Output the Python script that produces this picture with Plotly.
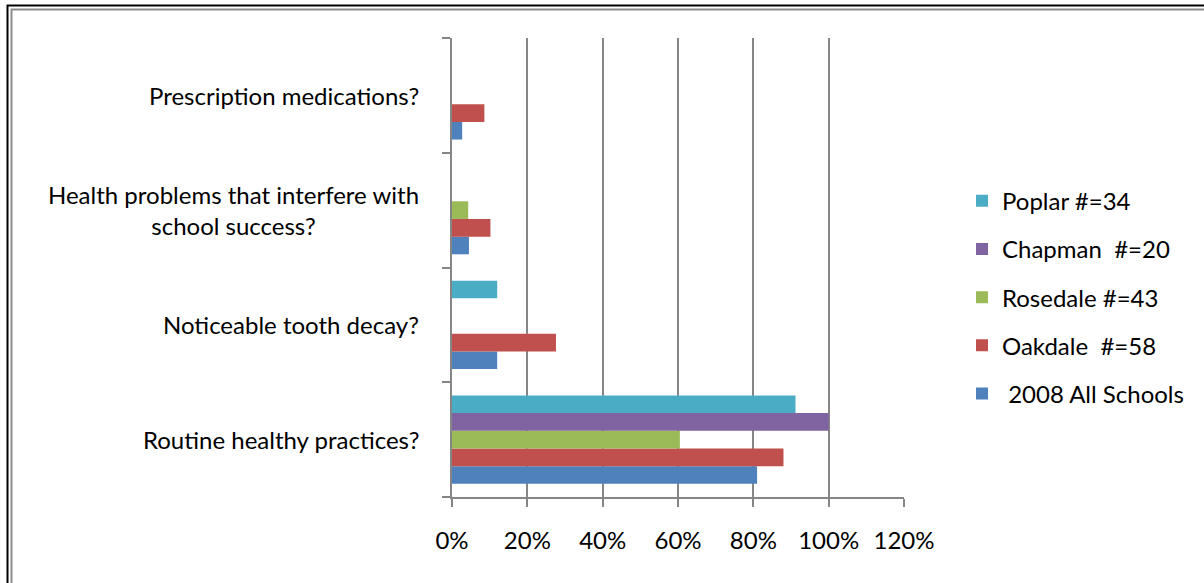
import plotly.graph_objects as go

categories = ["Routine healthy practices?", "Noticeable tooth decay?",
              "Health problems that interfere with<br>school success?", "Prescription medications?"]
series_names = ["\u00a02008 All Schools", "Oakdale  #=58", "Rosedale #=43", "Chapman  #=20", "Poplar #=34"]
all_schools = [0.81, 0.12, 0.045, 0.027]
oakdale = [0.88, 0.276, 0.102, 0.086]
rosedale = [0.605, None, 0.043, None]
chapman = [1.00, None, None, None]
poplar = [0.912, 0.12, None, None]
colors = ["#4F81BD", "#C0504D", "#9BBB59", "#8064A2", "#4BACC6"]
x_ticks = [0, 0.2, 0.4, 0.6, 0.8, 1.0, 1.2]

FONT = "Lato"
W, H = 1204, 583
L, R = 452, 904
T, B = 38, 496.7

def px(x):
    return (x - L) / (R - L)

def py(y):
    return (B - y) / (B - T)

fig = go.Figure()
series_vals = [all_schools, oakdale, rosedale, chapman, poplar]
for i, (name, vals) in enumerate(zip(series_names, series_vals)):
    fig.add_trace(go.Bar(
        y=categories, x=vals, name=name, orientation="h",
        marker=dict(color=colors[i], line=dict(width=0)),
        legendgroup=str(i), legendrank=100 - i,
    ))

annotations = []
for c in categories:
    annotations.append(dict(
        x=px(421), xref="paper", y=c, yref="y", text=c, showarrow=False,
        xanchor="right", yanchor="middle", align="center",
        font=dict(family=FONT, size=24, color="#000000"),
    ))

shapes = [
    dict(type="rect", xref="paper", yref="paper",
         x0=px(7.5), x1=px(1230), y0=py(5.5), y1=py(620),
         line=dict(color="#000000", width=2), layer="below"),
    dict(type="rect", xref="paper", yref="paper",
         x0=px(11.5), x1=px(1226), y0=py(9.5), y1=py(616),
         line=dict(color="#8c8c8c", width=2), layer="below"),
]

fig.update_layout(
    width=W, height=H,
    margin=dict(l=L, r=W - R, t=T, b=H - B),
    paper_bgcolor="white", plot_bgcolor="white",
    barmode="group", bargap=0.23, bargroupgap=0,
    font=dict(family=FONT, size=24, color="#000000"),
    xaxis=dict(range=[0, 1.2], tickvals=x_ticks, tickformat=".0%",
               showgrid=True, gridcolor="#868686", gridwidth=1.8,
               showline=True, linecolor="#868686", linewidth=1.8,
               ticks="outside", ticklen=8, tickcolor="#868686", tickwidth=1.8,
               ticklabelstandoff=13, zeroline=False,
               tickfont=dict(family=FONT, size=24, color="#000000"), fixedrange=True),
    yaxis=dict(categoryorder="array", categoryarray=categories,
               showticklabels=False, showgrid=False,
               showline=True, linecolor="#868686", linewidth=1.8,
               ticks="outside", ticklen=8, tickcolor="#868686", tickwidth=1.8,
               tickson="boundaries", fixedrange=True),
    legend=dict(x=px(962), xanchor="left", y=py(297), yanchor="middle",
                traceorder="grouped", tracegroupgap=14,
                font=dict(family=FONT, size=24, color="#000000"),
                bgcolor="rgba(0,0,0,0)"),
    annotations=annotations,
    shapes=shapes,
)

fig.write_html("out.html")
